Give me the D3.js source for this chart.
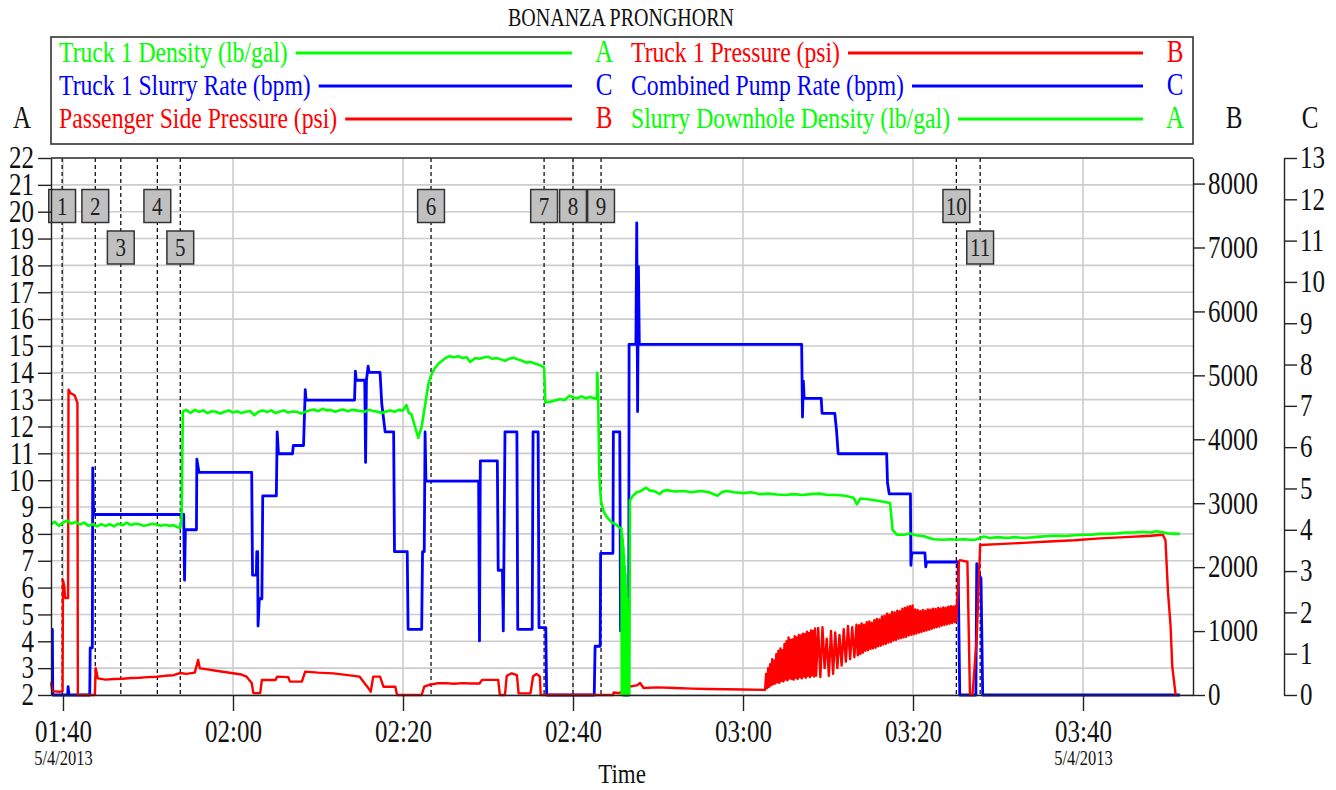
<!DOCTYPE html>
<meta charset="utf-8">
<style>
body { margin: 0; background: #fff; }
svg text { font-family: "Liberation Serif", "Times New Roman", serif; fill: #111; }
.grid line { stroke: #cccccc; stroke-width: 1.6; }
.axis path, .axis line { stroke: #222; stroke-width: 1.4; }
.series { fill: none; stroke-linejoin: round; }
</style>
<svg width="1336" height="790"></svg>
<script src="https://d3js.org/d3.v7.min.js"></script>
<script>

// ---- data (time = minutes after midnight, 5/4/2013) ----

var legendLabels = ["Truck 1 Density (lb/gal)", "Truck 1 Pressure (psi)",
                    "Truck 1 Slurry Rate (bpm)", "Combined Pump Rate (bpm)",
                    "Passenger Side Pressure (psi)", "Slurry Downhole Density (lb/gal)"];
var legendColors = ["#00ff00", "#ff0000", "#0000ff", "#0000ff", "#ff0000", "#00ff00"];
var legendAxes = ["A", "B", "C", "C", "B", "A"];

var aTicks = [2,3,4,5,6,7,8,9,10,11,12,13,14,15,16,17,18,19,20,21,22];
var bTicks = [0,1000,2000,3000,4000,5000,6000,7000,8000];
var cTicks = [0,1,2,3,4,5,6,7,8,9,10,11,12,13];

var eventNames = ["1","2","3","4","5","6","7","8","9","10","11"];
var eventTimes = [99.9, 103.8, 106.8, 111.1, 113.8, 143.3, 156.6, 160.0, 163.3, 205.1, 207.9];
var eventRows  = [0, 0, 1, 0, 1, 0, 0, 0, 0, 0, 1];

// density, lb/gal (axis A)
var densityData = [
  [98.6,8.35],[99.0,8.45],[99.5,8.3],[100.0,8.42],[100.5,8.5],[101.0,8.38],[101.5,8.45],[102.0,8.35],
  [102.5,8.42],[103.0,8.3],[103.5,8.36],[104.0,8.28],[104.5,8.36],[105.0,8.3],[105.5,8.36],[106.0,8.28],
  [106.5,8.38],[107.0,8.32],[107.5,8.42],[108.0,8.33],[108.5,8.38],[109.0,8.36],[109.5,8.3],[110.0,8.33],
  [110.5,8.38],[111.0,8.35],[111.5,8.3],[112.0,8.34],[112.5,8.3],[113.0,8.32],[113.5,8.25],[113.8,8.22],
  [113.95,8.6],[114.1,12.55],[114.5,12.62],[115.0,12.5],[115.5,12.62],[116.0,12.55],[116.5,12.6],
  [117.0,12.5],[117.5,12.57],[118.0,12.55],[118.5,12.48],[119.0,12.55],[119.5,12.6],[120.0,12.52],
  [120.5,12.57],[121.0,12.5],[121.5,12.55],[122.0,12.58],[122.5,12.42],[123.0,12.55],[123.5,12.6],
  [124.0,12.54],[124.5,12.6],[125.0,12.5],[125.5,12.56],[126.0,12.6],[126.5,12.52],[127.0,12.56],
  [127.5,12.55],[128.0,12.48],[128.5,12.55],[129.0,12.6],[129.5,12.63],[130.0,12.57],[130.5,12.66],
  [131.0,12.6],[131.5,12.62],[132.0,12.55],[132.5,12.6],[133.0,12.63],[133.5,12.57],[134.0,12.62],
  [134.5,12.6],[135.0,12.58],[135.5,12.55],[136.0,12.62],[136.5,12.58],[137.0,12.55],[137.5,12.5],
  [138.0,12.56],[138.5,12.6],[139.0,12.55],[139.5,12.62],[140.0,12.6],[140.4,12.8],[140.7,12.5],
  [141.0,12.45],[141.4,12.0],[141.8,11.58],[142.2,12.0],[142.6,12.8],[143.0,13.6],[143.3,13.9],
  [143.7,14.15],[144.2,14.35],[145.0,14.55],[145.5,14.62],[146.0,14.58],[146.5,14.62],[147.0,14.55],
  [147.5,14.58],[147.9,14.4],[148.5,14.55],[149.0,14.52],[149.5,14.57],[150.0,14.6],[150.5,14.52],
  [151.0,14.55],[151.5,14.5],[152.0,14.45],[152.5,14.52],[153.0,14.56],[153.5,14.5],[154.0,14.45],
  [154.5,14.38],[155.0,14.4],[155.5,14.35],[156.0,14.3],[156.6,14.2],[156.75,12.9],[157.3,12.92],
  [158.0,12.98],[158.5,13.02],[159.0,12.98],[159.6,13.15],[160.0,13.08],[160.5,13.05],[161.0,13.12],
  [161.5,13.05],[162.0,13.1],[162.5,13.05],[162.8,13.02],[162.85,14.0],[162.95,13.3],[163.1,10.2],
  [163.3,9.2],[163.6,8.85],[163.9,8.66],[164.5,8.45],[165.1,8.34],[165.5,8.22],[165.7,8.2],
  [165.74,2.0],[165.78,8.0],[165.82,2.0],[165.86,7.8],[165.9,2.0],[165.94,7.5],[165.98,2.0],[166.02,7.2],
  [166.06,2.0],[166.1,6.8],[166.14,2.0],[166.18,6.5],[166.22,2.0],[166.26,6.0],[166.3,2.0],[166.34,5.6],
  [166.38,2.0],[166.42,5.0],[166.46,2.0],[166.5,4.4],[166.54,2.0],[166.58,3.6],[166.62,2.0],
  [166.7,9.25],[167.0,9.4],[167.5,9.55],[168.0,9.6],[168.6,9.72],
  [169.0,9.62],[169.5,9.6],[170.2,9.48],[170.6,9.6],[171.0,9.63],[172.0,9.58],[173.0,9.6],[174.0,9.55],
  [175.0,9.6],[176.0,9.55],[177.0,9.42],[177.5,9.55],[178.0,9.6],[179.0,9.55],[180.0,9.52],[181.0,9.55],
  [182.0,9.48],[183.0,9.5],[184.0,9.47],[185.0,9.45],[186.0,9.48],[187.0,9.45],[188.0,9.48],[189.0,9.5],
  [190.0,9.45],[191.0,9.45],[192.0,9.42],[193.0,9.35],[193.4,9.1],[193.8,9.32],[194.5,9.3],[195.5,9.25],
  [196.5,9.2],[197.3,9.15],[197.6,8.15],[198.1,7.97],[199.0,7.97],[199.6,8.02],[200.3,7.95],[201.2,7.92],
  [202.4,7.8],[203.5,7.78],[204.5,7.8],[205.1,7.78],[206.0,7.8],[207.0,7.77],[207.5,7.8],[208.3,7.9],
  [209.0,7.85],[210.0,7.88],[211.0,7.85],[212.0,7.88],[213.0,7.85],[214.0,7.87],[215.0,7.9],[216.0,7.92],
  [217.0,7.93],[218.0,7.92],[219.0,7.95],[220.0,7.97],[221.0,7.97],[222.0,8.0],[223.0,8.0],[224.0,8.02],
  [225.0,8.05],[226.0,8.05],[227.0,8.08],[228.0,8.05],[228.6,8.1],[229.5,8.05],[230.0,8.02],[231.4,8.0]
];

// slurry / pump rate, bpm (axis C)
var rateData = [
  [98.6,1.59],[98.75,1.59],[98.8,0],[100.55,0],[100.6,0.2],[100.7,0],[103.15,0],[103.2,1.14],
  [103.45,1.14],[103.5,5.5],[103.6,4.37],[114.0,4.37],[114.2,4.37],[114.3,2.78],[114.4,4.0],[115.7,4.0],
  [115.75,5.71],[116.0,5.39],[122.2,5.39],[122.3,2.9],[122.75,2.9],[122.8,3.47],[122.9,3.47],[122.95,1.67],
  [123.1,2.33],[123.4,2.33],[123.5,4.82],[125.1,4.82],[125.2,6.37],[125.35,5.84],[127.0,5.84],[127.1,6.04],
  [128.3,6.04],[128.5,7.39],[128.6,7.14],[134.3,7.14],[134.4,7.84],[134.5,7.62],[135.5,7.62],[135.6,5.63],
  [135.7,7.62],[135.9,7.96],[136.0,7.81],[137.3,7.81],[137.5,7.06],[137.9,6.37],[138.9,6.37],[139.0,3.47],
  [140.5,3.47],[140.6,1.59],[142.2,1.59],[142.3,3.47],[142.5,3.47],[142.6,6.37],[142.7,5.18],[148.9,5.18],
  [149.0,1.31],[149.1,5.67],[151.1,5.67],[151.2,3.02],[151.7,3.02],[151.8,1.55],[152.0,6.37],[153.4,6.37],
  [153.5,1.59],[155.2,1.59],[155.3,6.37],[155.9,6.37],[156.0,1.63],[156.8,1.63],[156.9,0],[162.5,0],
  [162.6,1.18],[163.2,1.18],[163.25,3.43],[164.7,3.43],[164.75,6.37],[165.5,6.37],[165.6,1.55],[165.9,1.55],
  [165.95,0],[166.55,0],[166.6,8.49],[167.4,8.49],[167.5,11.43],[167.6,6.86],[167.7,10.37],[167.8,8.49],
  [186.9,8.49],[187.0,6.73],[187.1,7.6],[187.2,7.18],[189.2,7.18],[189.3,6.82],[190.8,6.82],[191.0,6.41],
  [191.2,5.84],[196.9,5.84],[197.0,5.14],[197.2,4.87],[199.7,4.87],[199.75,3.14],[199.85,3.44],[201.4,3.44],
  [201.5,3.1],[201.6,3.22],[205.3,3.22],[205.5,0],[207.4,0],[207.5,3.18],[207.8,2.9],[208.0,2.82],
  [208.2,0],[231.4,0]
];

// pressure, psi (axis B)
var pressureData = [
  [98.6,200],[98.75,60],[99.6,50],[99.95,60],[100.0,1800],[100.15,1700],[100.25,1517],[100.6,1517],
  [100.65,4775],[100.9,4720],[101.2,4700],[101.4,4680],[101.7,4564],[101.75,0],[103.75,0],[103.85,420],
  [104.1,260],[105.0,240],[106.0,250],[107.0,255],[108.0,265],[109.0,270],[110.0,280],[111.0,285],
  [112.0,300],[113.0,310],[113.8,344],[114.5,330],[115.5,350],[115.9,548],[116.1,417],[117.0,400],
  [118.0,380],[119.0,360],[120.0,340],[121.0,320],[121.6,287],[122.2,188],[122.4,30],[123.2,30],
  [123.4,235],[125.0,235],[125.2,287],[126.5,280],[126.7,209],[128.1,209],[128.5,365],[130.0,350],
  [131.8,339],[133.5,310],[134.9,287],[135.8,130],[136.2,52],[136.5,287],[137.3,287],[137.7,130],
  [139.1,130],[139.3,0],[142.2,0],[142.5,130],[143.0,156],[144.0,183],[145.0,185],[146.0,175],
  [147.0,185],[148.0,180],[149.0,180],[149.3,237],[151.2,237],[151.4,0],[152.0,0],[152.2,300],
  [152.8,340],[153.4,310],[153.6,26],[155.0,26],[155.3,290],[155.7,330],[156.1,290],[156.2,0],
  [164.7,0],[164.8,40],[165.5,30],[166.5,130],[167.5,150],[167.9,188],[168.3,110],[170.0,120],
  [172.0,110],[174.0,100],[176.0,95],[178.0,90],[180.0,85],
  [182.6,80],[182.72,330],[182.84,110],[182.96,420],[183.08,130],[183.2,480],[183.32,150],[183.44,560],
  [183.56,170],[183.68,540],[183.8,180],[183.92,640],[184.04,200],[184.16,690],[184.28,190],[184.4,730],
  [184.52,220],[184.64,700],[184.76,210],[184.88,800],[185.0,240],[185.12,840],[185.24,230],[185.36,900],
  [185.48,260],[185.6,860],[185.72,250],[185.84,870],[185.96,240],[186.08,920],[186.2,270],[186.32,900],
  [186.44,250],[186.56,940],[186.68,280],[186.8,930],[186.92,260],[187.04,960],[187.16,290],[187.28,950],
  [187.4,270],[187.52,990],[187.64,300],[187.76,970],[187.88,280],[188.0,1010],[188.12,310],[188.24,1000],
  [188.36,290],[188.48,1040],[188.6,300],
  [188.85,1050],[189.1,280],[189.35,1060],[189.6,420],[189.85,880],[190.1,300],[190.35,1000],[190.6,330],
  [190.85,980],[191.1,420],[191.35,940],[191.6,460],[191.85,1030],[192.1,520],[192.35,1080],[192.6,560],
  [192.85,1060],[193.1,590],[193.35,1100],
  [193.5,620],[193.65,1090],[193.8,640],[193.95,1120],[194.1,660],[194.25,1100],[194.4,690],[194.55,1140],
  [194.7,700],[194.85,1150],[195.0,720],[195.15,1130],[195.3,730],[195.45,1170],[195.6,740],[195.75,1190],
  [195.9,760],[196.05,1180],[196.2,770],[196.35,1230],[196.5,790],[196.65,1240],[196.8,800],[196.95,1270],
  [197.1,820],[197.25,1260],[197.4,830],[197.55,1300],[197.7,850],[197.85,1290],[198.0,860],[198.15,1320],
  [198.3,880],[198.45,1310],[198.6,890],[198.75,1350],[198.9,900],[199.05,1360],[199.2,910],[199.35,1380],
  [199.5,930],[199.65,1390],[199.8,940],[199.95,1400],[200.1,950],[200.25,1340],[200.4,960],[200.55,1330],
  [200.7,975],[200.85,1310],[201.0,985],[201.15,1330],[201.3,1000],[201.45,1320],[201.6,1010],[201.75,1340],
  [201.9,1020],[202.05,1335],[202.2,1035],[202.35,1350],[202.5,1050],[202.65,1345],[202.8,1060],[202.95,1360],
  [203.1,1070],[203.25,1355],[203.4,1085],[203.55,1370],[203.7,1095],[203.85,1365],[204.0,1105],[204.15,1380],
  [204.3,1115],[204.45,1390],[204.6,1125],[204.75,1385],[204.9,1140],[205.05,1400],[205.1,1150],
  [205.4,2085],[205.5,2110],[206.4,2085],[206.7,0],[207.0,0],[207.5,900],[207.9,2346],[210.0,2360],
  [213.0,2380],[216.0,2400],[219.0,2420],[222.0,2450],[225.0,2470],[228.0,2490],[229.4,2506],[229.7,2420],
  [230.0,1609],[230.3,1082],[230.5,448],[230.9,0]
];

// ---- layout ----

var SY = 1.23; // the source fonts are drawn taller than wide
var svg = d3.select("svg");
var plotLeft = 51, plotRight = 1193, plotTop = 158, plotBottom = 695;

function at(m) { return new Date(new Date(2013, 4, 4).getTime() + m * 60000); }

var x = d3.scaleTime().domain([at(98.59), at(232.94)]).range([plotLeft, plotRight]);
var yA = d3.scaleLinear().domain([2, 22]).range([plotBottom, plotTop]);
var yB = d3.scaleLinear().domain([0, 8400]).range([plotBottom, plotTop]);
var yC = d3.scaleLinear().domain([0, 13]).range([plotBottom, plotTop]);

function label(parent, px, py, str, size, color, anchor) {
  return parent.append("text")
    .attr("transform", "translate(" + px + "," + py + ") scale(1," + SY + ")")
    .attr("font-size", size)
    .attr("text-anchor", anchor || "start")
    .style("fill", color || "#111")
    .text(str);
}

/* grid */
var grid = svg.append("g").attr("class", "grid");
grid.selectAll(".h").data(aTicks).enter().append("line")
    .attr("x1", plotLeft).attr("x2", plotRight)
    .attr("y1", function(d) { return yA(d); }).attr("y2", function(d) { return yA(d); });
grid.selectAll(".v").data(x.ticks(d3.timeMinute.every(20))).enter().append("line")
    .attr("y1", plotTop).attr("y2", plotBottom)
    .attr("x1", function(d) { return x(d); }).attr("x2", function(d) { return x(d); });

/* event marker lines */
var ev = svg.append("g");
ev.selectAll("line").data(eventTimes).enter().append("line")
    .attr("x1", function(d) { return x(at(d)); }).attr("x2", function(d) { return x(at(d)); })
    .attr("y1", plotTop).attr("y2", plotBottom)
    .attr("stroke", "#111").attr("stroke-width", 1.3).attr("stroke-dasharray", "4,3");

/* series */
var lineFor = function(yScale) {
  return d3.line().x(function(d) { return x(at(d[0])); }).y(function(d) { return yScale(d[1]); });
};
svg.append("path").datum(rateData).attr("class", "series")
    .attr("stroke", "#0000ff").attr("stroke-width", 2.8).attr("d", lineFor(yC));
svg.append("path").datum(pressureData).attr("class", "series")
    .attr("stroke", "#ff0000").attr("stroke-width", 2.4).attr("d", lineFor(yB));
svg.append("path").datum(densityData).attr("class", "series")
    .attr("stroke", "#00ff00").attr("stroke-width", 2.6).attr("d", lineFor(yA));

/* event boxes */
var boxes = svg.append("g").selectAll("g").data(eventNames).enter().append("g")
    .attr("transform", function(d, i) {
      return "translate(" + x(at(eventTimes[i])) + "," + (eventRows[i] ? 247.5 : 206) + ")";
    });
boxes.append("rect").attr("x", -13.4).attr("y", -16.5).attr("width", 26.8).attr("height", 33)
    .attr("fill", "#c0c0c0").attr("stroke", "#333").attr("stroke-width", 1.5);
boxes.each(function(d) { label(d3.select(this), 0, 8.6, d, 21, "#222", "middle"); });

/* frame top */
svg.append("line").attr("x1", plotLeft).attr("x2", plotRight).attr("y1", plotTop).attr("y2", plotTop)
    .attr("stroke", "#333").attr("stroke-width", 1.4);

/* axes */
function stretch(g) { g.selectAll("text").attr("transform", "scale(1," + SY + ")").style("fill", "#111"); }

var axA = svg.append("g").attr("class", "axis").attr("transform", "translate(" + plotLeft + ",0)");
axA.call(d3.axisLeft(yA).tickValues(d3.range(2, 22.01, 0.5)).tickSize(7).tickSizeOuter(0).tickFormat(""));
axA.call(d3.axisLeft(yA).tickValues(aTicks).tickSize(13).tickSizeOuter(0).tickPadding(4));
axA.attr("font-size", 25).attr("font-family", null).call(stretch);

var axB = svg.append("g").attr("class", "axis").attr("transform", "translate(" + plotRight + ",0)");
axB.call(d3.axisRight(yB).tickValues(d3.range(0, 8401, 500)).tickSize(7).tickSizeOuter(0).tickFormat(""));
axB.call(d3.axisRight(yB).tickValues(bTicks).tickSize(12).tickSizeOuter(0).tickPadding(3)
    .tickFormat(d3.format("d")));
axB.attr("font-size", 25).attr("font-family", null).call(stretch);

var axC = svg.append("g").attr("class", "axis").attr("transform", "translate(1284,0)");
axC.call(d3.axisRight(yC).tickValues(d3.range(0, 13.01, 0.5)).tickSize(7).tickSizeOuter(0).tickFormat(""));
axC.call(d3.axisRight(yC).tickValues(cTicks).tickSize(13).tickSizeOuter(0).tickPadding(3));
axC.attr("font-size", 25).attr("font-family", null).call(stretch);

var axX = svg.append("g").attr("class", "axis").attr("transform", "translate(0," + plotBottom + ")");
axX.call(d3.axisBottom(x).ticks(d3.timeMinute.every(5)).tickSize(8).tickSizeOuter(0).tickFormat(""));
axX.call(d3.axisBottom(x).ticks(d3.timeMinute.every(20)).tickSize(16).tickSizeOuter(0)
    .tickFormat(d3.timeFormat("%H:%M")));
axX.attr("font-size", 25).attr("font-family", null).call(stretch);
axX.selectAll("text").attr("y", 47 / SY).attr("dy", 0);
var major = axX.selectAll(".tick").filter(function(d) { return d.getMinutes() % 20 === 0; });
var nMajor = major.size();
major.filter(function(d, i) { return i === 0 || i === nMajor - 1; }).each(function() {
  label(d3.select(this), 0, 70, "5/4/2013", 16.5, "#111", "middle");
});

/* titles */
label(svg, 621, 26, "BONANZA PRONGHORN", 20, "#111", "middle");
label(svg, 622, 783, "Time", 23, "#111", "middle");
label(svg, 22, 128, "A", 25, "#111", "middle");
label(svg, 1234, 128, "B", 25, "#111", "middle");
label(svg, 1310, 128, "C", 25, "#111", "middle");

/* legend */
var leg = svg.append("g");
leg.append("rect").attr("x", 51).attr("y", 37).attr("width", 1142).attr("height", 107)
    .attr("fill", "#fff").attr("stroke", "#333").attr("stroke-width", 1.6);
var colText = [59, 631], colLineEnd = [572, 1143], colLetter = [604, 1175];
var rowBase = [62, 95, 128];
legendLabels.forEach(function(name, i) {
  var c = i % 2, r = Math.floor(i / 2);
  var t = label(leg, colText[c], rowBase[r], name, 23.7, legendColors[i], "start");
  var w = t.node().getComputedTextLength();
  leg.append("line")
      .attr("x1", colText[c] + w + 8).attr("x2", colLineEnd[c])
      .attr("y1", rowBase[r] - 9).attr("y2", rowBase[r] - 9)
      .attr("stroke", legendColors[i]).attr("stroke-width", 3);
  label(leg, colLetter[c], rowBase[r], legendAxes[i], 25, legendColors[i], "middle");
});

</script>
